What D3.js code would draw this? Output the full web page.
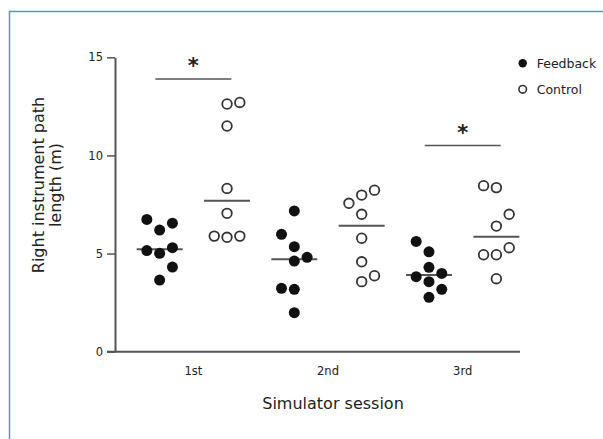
<!DOCTYPE html>
<html>
<head>
<meta charset="utf-8">
<script src="https://cdn.jsdelivr.net/npm/d3@7/dist/d3.min.js"></script>
<style>
  body { margin: 0; background: #fff; }
  svg { display: block; font-family: "DejaVu Sans", Verdana, sans-serif; }
</style>
</head>
<body>
<svg id="chart" width="603" height="439"></svg>
<script>
// sessions on the x axis
const sessions = ["1st", "2nd", "3rd"];
const yTicks = [0, 5, 10, 15];

// path length (m) for each participant, per session
const feedback1 = [6.74, 6.55, 6.2, 5.3, 5.15, 5.01, 4.31, 3.65];
const feedback2 = [7.17, 5.98, 5.35, 4.81, 4.62, 3.23, 3.18, 1.99];
const feedback3 = [5.62, 5.09, 4.3, 3.99, 3.82, 3.57, 3.18, 2.77];
const control1 = [12.7, 12.62, 11.5, 8.32, 7.05, 5.89, 5.83, 5.89];
const control2 = [8.23, 7.98, 7.56, 7.0, 5.78, 4.58, 3.87, 3.57];
const control3 = [8.46, 8.36, 7.0, 6.4, 5.3, 4.94, 4.94, 3.72];

// dot-plot column of each point (-1 left, 0 middle, 1 right)
const feedbackCol1 = [-1, 1, 0, 1, -1, 0, 1, 0];
const feedbackCol2 = [0, -1, 0, 1, 0, -1, 0, 0];
const feedbackCol3 = [-1, 0, 0, 1, -1, 0, 1, 0];
const controlCol1 = [1, 0, 0, 0, 0, 1, 0, -1];
const controlCol2 = [1, 0, -1, 0, 0, 0, 1, 0];
const controlCol3 = [-1, 0, 1, 0, 1, -1, 0, 0];

// group means drawn as horizontal bars
const feedbackMean = [5.22, 4.71, 3.91];
const controlMean = [7.69, 6.42, 5.86];

// significance markers: session and bar height
const sigSessions = ["1st", "3rd"];
const sigLevels = [13.9, 10.5];

const svg = d3.select("#chart");

// blue frame (left and top edges)
svg.append("path")
    .attr("d", "M9.5,439V11.5H603")
    .attr("fill", "none")
    .attr("stroke", "#5b8fd6")
    .attr("stroke-width", 1.5);

const x = d3.scaleBand().domain(sessions).range([126, 530]);
const groups = d3.scaleOrdinal().domain(["Feedback", "Control"]).range([-33.7, 33.7]);
const jitter = d3.scaleLinear().domain([-1, 1]).range([-12.8, 12.8]);
const y = d3.scaleLinear().domain([0, 15]).range([351.7, 57.3]);

// y axis
const yAxisG = svg.append("g")
    .attr("transform", "translate(115,0)")
    .call(d3.axisLeft(y).tickValues(yTicks).tickSize(8).tickSizeOuter(0).tickPadding(4));
yAxisG.select(".domain").attr("stroke", "#555").attr("stroke-width", 2);
yAxisG.selectAll(".tick line").attr("stroke", "#555").attr("stroke-width", 1.5);
yAxisG.selectAll(".tick text")
    .attr("font-size", 11.5)
    .attr("font-family", "DejaVu Sans, sans-serif")
    .attr("fill", "#222");

// x axis
const xAxisG = svg.append("g")
    .attr("transform", "translate(0,351.7)")
    .call(d3.axisBottom(x).tickSize(0).tickPadding(15));
xAxisG.select(".domain").remove();
xAxisG.append("line")
    .attr("x1", 107).attr("x2", 520)
    .attr("stroke", "#555").attr("stroke-width", 2);
xAxisG.selectAll(".tick text")
    .attr("font-size", 11.5)
    .attr("font-family", "DejaVu Sans, sans-serif")
    .attr("fill", "#222");

// axis titles
svg.append("text")
    .attr("x", 333).attr("y", 409)
    .attr("text-anchor", "middle")
    .attr("font-size", 16)
    .attr("fill", "#222")
    .text("Simulator session");

const yTitle = svg.append("text")
    .attr("transform", "translate(44,185) rotate(-90)")
    .attr("text-anchor", "middle")
    .attr("font-size", 16)
    .attr("fill", "#222");
yTitle.append("tspan").attr("x", 0).attr("y", 0).text("Right instrument path");
yTitle.append("tspan").attr("x", 0).attr("y", 17).text("length (m)");

// build point list from the arrays
const fbVals = [feedback1, feedback2, feedback3];
const fbCols = [feedbackCol1, feedbackCol2, feedbackCol3];
const ctVals = [control1, control2, control3];
const ctCols = [controlCol1, controlCol2, controlCol3];

const points = [];
sessions.forEach((s, i) => {
    fbVals[i].forEach((v, j) => points.push({session: s, group: "Feedback", value: v, col: fbCols[i][j]}));
    ctVals[i].forEach((v, j) => points.push({session: s, group: "Control", value: v, col: ctCols[i][j]}));
});

const cx = d => x(d.session) + x.bandwidth() / 2 + groups(d.group);

// mean bars
const means = [];
sessions.forEach((s, i) => {
    means.push({session: s, group: "Feedback", value: feedbackMean[i]});
    means.push({session: s, group: "Control", value: controlMean[i]});
});
svg.append("g").selectAll("line")
    .data(means)
    .enter()
    .append("line")
        .attr("x1", d => cx(d) - 23)
        .attr("x2", d => cx(d) + 23)
        .attr("y1", d => y(d.value))
        .attr("y2", d => y(d.value))
        .attr("stroke", "#555")
        .attr("stroke-width", 2);

// dots
svg.append("g").selectAll("circle")
    .data(points)
    .enter()
    .append("circle")
        .attr("cx", d => cx(d) + jitter(d.col))
        .attr("cy", d => y(d.value))
        .attr("r", d => d.group === "Feedback" ? 5.5 : 4.8)
        .attr("fill", d => d.group === "Feedback" ? "#111" : "#fff")
        .attr("stroke", d => d.group === "Feedback" ? "none" : "#333")
        .attr("stroke-width", 1.8);

// significance bars
const sig = svg.append("g");
sigSessions.forEach((s, i) => {
    const xc = x(s) + x.bandwidth() / 2;
    const yl = y(sigLevels[i]);
    sig.append("line")
        .attr("x1", xc - 38).attr("x2", xc + 38)
        .attr("y1", yl).attr("y2", yl)
        .attr("stroke", "#555").attr("stroke-width", 1.5);
    sig.append("text")
        .attr("x", xc).attr("y", yl - 6)
        .attr("text-anchor", "middle")
        .attr("font-size", 21)
        .attr("font-weight", "bold")
        .attr("fill", "#222")
        .text("*");
});

// legend
const legend = svg.append("g").attr("transform", "translate(522.7,63.3)");
["Feedback", "Control"].forEach((g, i) => {
    const row = legend.append("g").attr("transform", `translate(0,${i * 26})`);
    row.append("circle")
        .attr("r", g === "Feedback" ? 4.2 : 3.8)
        .attr("fill", g === "Feedback" ? "#111" : "#fff")
        .attr("stroke", g === "Feedback" ? "none" : "#333")
        .attr("stroke-width", 1.6);
    row.append("text")
        .attr("x", 14).attr("y", 4.5)
        .attr("font-size", 12.5)
        .attr("fill", "#222")
        .text(g);
});
</script>
</body>
</html>
